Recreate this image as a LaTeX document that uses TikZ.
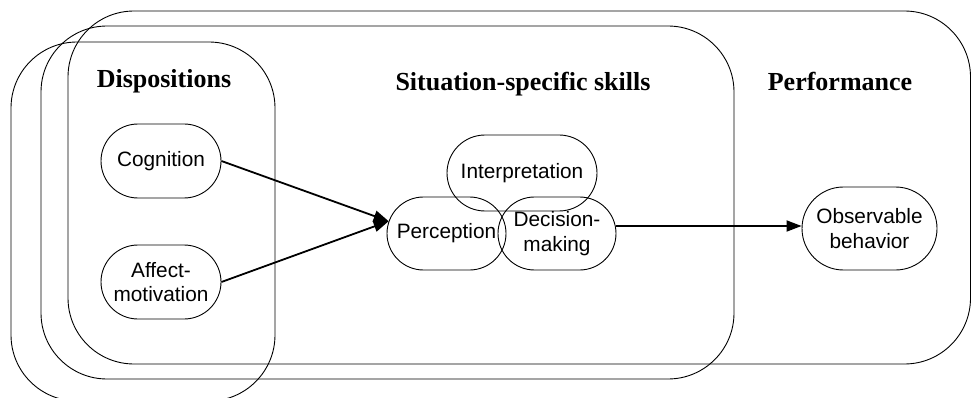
\documentclass[tikz,border=0pt]{standalone}
\usepackage{fontspec}
\setmainfont{Liberation Serif}
\setsansfont{Liberation Sans}
\usetikzlibrary{arrows.meta,shapes.misc}
\begin{document}
\begin{tikzpicture}[x=1pt,y=-1pt,
  bigbox/.style={draw, line width=0.9pt, rounded corners=66pt},
  oval/.style={draw, line width=0.9pt, rounded rectangle, inner sep=0pt,
    font=\sffamily\fontsize{20.8}{24.5}\selectfont, align=center},
  title/.style={font=\bfseries\fontsize{26}{30}\selectfont, anchor=base, inner sep=0pt},
  conn/.style={line width=1.8pt, -{Triangle[length=15pt,width=11pt]}}]
\useasboundingbox (0,0) rectangle (971,398);
\begin{scope}
  \clip (0,0) rectangle (971,398);
  \draw[bigbox] (68,11) rectangle (970.5,364);
  \draw[bigbox] (41,26) rectangle (734,379);
  \draw[bigbox] (11,42) rectangle (275,401);
\end{scope}
\node[title] (tdisp) at (164,88) {Dispositions};
\node[title] (tskill) at (523,90.5) {Situation-specific skills};
\node[title] (tperf) at (840,90.5) {Performance};
\node[oval, minimum width=120pt, minimum height=74pt] (cog) at (161,161) {Cognition};
\node[oval, minimum width=120pt, minimum height=74pt] (aff) at (161,282) {Affect-\\motivation};
\node[oval, minimum width=150pt, minimum height=76pt] (interp) at (522,173) {Interpretation};
\node[oval, minimum width=119pt, minimum height=73pt] (perc) at (446.5,233.5) {Perception};
\node[oval, minimum width=118pt, minimum height=73pt] (dec) at (557,233.5) {Decision-\\making};
\node[oval, minimum width=135pt, minimum height=83pt] (obs) at (869.5,228.5) {Observable\\behavior};
\draw[conn] (cog.east) -- (perc.168);
\draw[conn] (aff.east) -- (perc.168);
\draw[conn] ([yshift=7.5pt]dec.east) -- ([yshift=2.5pt]obs.west);
\end{tikzpicture}
\end{document}
